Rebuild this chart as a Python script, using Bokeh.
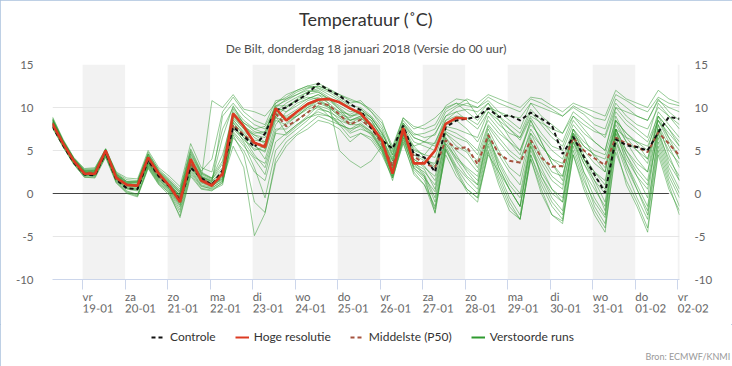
import pandas as pd
from bokeh.plotting import figure
from bokeh.layouts import column
from bokeh.models import (FixedTicker, CustomJSTickFormatter, LinearAxis, DatetimeAxis, Range1d,
                          Title, Legend, LegendItem, ColumnDataSource)
from bokeh.embed import file_html
from bokeh.resources import INLINE

# ---------------- data ----------------
times = pd.date_range("2018-01-18 07:00", periods=60, freq="6h")   # local time, 6-hourly
tick_days = ["2018-01-19", "2018-01-20", "2018-01-21", "2018-01-22", "2018-01-23",
             "2018-01-24", "2018-01-25", "2018-01-26", "2018-01-27", "2018-01-28",
             "2018-01-29", "2018-01-30", "2018-01-31", "2018-02-01", "2018-02-02"]
day_names = ["vr", "za", "zo", "ma", "di", "wo", "do", "vr", "za", "zo", "ma", "di", "wo", "do", "vr"]
date_labels = ["19-01", "20-01", "21-01", "22-01", "23-01", "24-01", "25-01", "26-01",
               "27-01", "28-01", "29-01", "30-01", "31-01", "01-02", "02-02"]
band_start = ["2018-01-19", "2018-01-21", "2018-01-23", "2018-01-25",
              "2018-01-27", "2018-01-29", "2018-01-31", "2018-02-02"]
band_end = ["2018-01-20", "2018-01-22", "2018-01-24", "2018-01-26",
            "2018-01-28", "2018-01-30", "2018-02-01", "2018-02-03"]
y_ticks = [-10, -5, 0, 5, 10, 15]

controle = [7.8, 5.6, 3.6, 2.2, 2.1, 4.8, 1.6, 0.6, 0.5, 3.9, 2.0, 0.8, -0.8, 3.0, 1.8, 1.0, 2.7,
            7.7, 6.7, 5.4, 7.0, 9.7, 10.0, 10.8, 11.6, 12.8, 12.0, 11.4, 10.4, 9.7, 7.6, 6.2, 5.2,
            7.9, 4.6, 4.2, 2.5, 7.7, 8.5, 8.7,
            8.9, 9.9, 8.9, 9.1, 8.5, 9.4, 8.7, 7.9, 4.6, 6.6, 4.3, 2.2, 0.1, 6.3, 5.6, 5.4, 5.0,
            7.1, 8.9, 8.7]
hoge_resolutie = [8.1, 5.8, 3.8, 2.3, 2.3, 5.0, 1.8, 1.0, 0.9, 4.2, 2.3, 0.9, -1.0, 4.0, 1.5, 0.9,
                  2.3, 9.3, 7.8, 5.9, 5.4, 9.9, 8.5, 9.5, 10.4, 10.9, 11.0, 10.6, 9.9, 9.3, 7.9,
                  6.2, 2.3, 7.6, 3.5, 3.5, 5.0, 8.1, 8.8, 8.7]
middelste = [8.2, 5.8, 3.8, 2.4, 2.4, 4.8, 1.9, 1.0, 0.9, 3.8, 2.0, 0.9, -0.6, 3.5, 1.7, 1.1, 2.0,
             8.0, 6.8, 5.8, 5.6, 9.3, 7.8, 8.5, 9.4, 10.5, 10.3, 9.2, 8.0, 8.6, 7.6, 5.8, 3.2,
             7.2, 4.3, 3.5, 3.0, 6.2, 5.2, 5.4,
             3.4, 6.8, 4.6, 3.8, 3.6, 6.2, 4.2, 3.1, 3.2, 6.5, 5.0, 4.1, 3.3, 6.5, 5.8, 5.4, 4.8,
             7.1, 5.8, 4.4]

run01 = [8.6, 6.0, 4.0, 2.6, 2.7, 5.0, 2.1, 1.2, 1.3, 4.4, 2.5, 1.2, -0.2, 4.2, 2.0, 1.5, 6.5,
         10.2, 8.0, 6.5, 5.8, 9.5, 10.5, 11.2, 11.8, 12.2, 11.5, 10.8, 10.0, 9.2, 7.8, 6.0, 3.5, 7.8, 5.0, 4.5, 6.0, 8.5, 9.5, 9.8,
         9.5, 10.5, 9.0, 7.5, 6.2, 8.8, 7.0, 5.5, 5.0, 8.0, 6.5, 4.2, 2.5, 8.5, 7.0, 5.8, 4.0, 9.0, 7.5, 5.5]
run02 = [7.9, 5.6, 3.7, 2.2, 2.2, 4.6, 1.6, 0.6, 0.4, 3.5, 1.6, 0.4, -1.4, 3.0, 1.2, 0.8, 1.8,
         7.8, 6.5, 5.0, 5.5, 9.0, 7.0, 8.0, 9.0, 10.2, 9.8, 8.5, 7.2, 8.0, 7.0, 5.2, 2.6, 6.8, 3.2, 2.5, 1.0, 6.2, 4.0, 2.8,
         1.5, 6.5, 3.5, 1.0, -0.5, 5.5, 2.0, 0.0, -1.0, 6.0, 2.5, 0.5, -1.5, 7.0, 4.0, 2.0, 0.5, 7.5, 3.5, 1.5]
run03 = [8.4, 5.9, 3.9, 2.5, 2.3, 4.9, 1.9, 0.9, 0.8, 3.9, 2.2, 1.1, -0.3, 3.8, 1.9, 1.4, 2.5,
         8.5, 7.2, 6.2, 6.0, 9.8, 8.8, 9.5, 10.5, 11.0, 10.8, 9.8, 8.5, 9.0, 8.2, 6.8, 3.0, 7.5, 4.0, 3.0, 2.0, 7.0, 5.5, 4.8,
         3.0, 7.5, 5.0, 3.0, 2.0, 7.0, 4.5, 2.5, 2.0, 7.5, 5.5, 4.5, 3.0, 9.0, 6.5, 5.0, 3.5, 8.5, 6.0, 4.0]
run04 = [8.0, 5.7, 3.6, 2.1, 2.0, 4.5, 1.5, 0.3, -0.1, 3.2, 1.3, 0.2, -1.9, 2.6, 0.9, 0.5, 1.2,
         7.2, 5.8, 3.0, -0.5, 5.0, 6.5, 7.5, 8.5, 9.8, 9.5, 8.0, 7.5, 8.2, 7.2, 5.5, 2.0, 6.5, 2.8, 1.5, -1.8, 5.5, 3.2, 1.8,
         0.5, 5.8, 2.5, -0.5, -2.5, 4.5, 1.0, -1.5, -3.0, 5.0, 1.5, -1.0, -2.8, 6.5, 3.0, 0.5, -2.5, 6.0, 2.0, -0.5]
run05 = [8.8, 6.2, 4.1, 2.8, 2.9, 5.2, 2.4, 1.6, 1.5, 4.6, 2.8, 1.7, 0.5, 5.2, 2.6, 4.0, 9.5,
         11.2, 9.5, 8.5, 8.0, 10.8, 11.0, 11.8, 12.3, 12.5, 12.0, 11.2, 10.5, 10.8, 9.5, 8.2, 5.5, 8.8, 7.5, 8.0, 8.8, 10.0, 10.5, 10.2,
         10.0, 11.2, 10.5, 10.0, 9.5, 11.0, 10.5, 9.8, 9.0, 10.2, 9.5, 8.8, 8.5, 11.5, 10.8, 10.0, 9.5, 11.2, 10.5, 10.2]
run06 = [8.1, 5.8, 3.8, 2.4, 2.5, 4.8, 1.8, 1.0, 0.9, 3.7, 1.9, 0.8, -0.7, 3.4, 1.6, 1.0, 2.2,
         8.2, 6.8, 5.5, 4.8, 8.5, 8.0, 9.0, 10.0, 10.8, 10.2, 9.2, 8.8, 9.5, 8.0, 6.2, 3.8, 7.2, 4.5, 3.8, 3.5, 7.2, 6.5, 6.0,
         4.5, 8.0, 6.5, 5.0, 4.0, 7.0, 5.5, 4.0, 3.5, 7.0, 5.5, 4.5, 4.0, 7.5, 6.5, 6.0, 5.5, 8.5, 7.0, 5.5]
run07 = [8.3, 5.9, 3.8, 2.3, 2.4, 4.7, 2.0, 1.1, 1.0, 4.0, 2.1, 0.9, -0.5, 3.6, 1.8, 10.8, 10.0,
         11.5, 9.8, 9.5, 9.0, 10.5, 11.5, 12.0, 12.5, 12.3, 11.8, 11.0, 10.2, 10.0, 9.0, 7.5, 4.5, 8.2, 6.5, 6.0, 5.8, 9.0, 9.5, 8.5,
         7.5, 9.5, 8.0, 7.0, 6.5, 9.0, 8.2, 7.5, 7.0, 9.0, 8.0, 7.2, 6.8, 10.5, 9.0, 8.0, 7.5, 10.0, 9.0, 8.0]
run08 = [7.7, 5.4, 3.4, 1.9, 1.9, 4.3, 1.3, 0.0, -0.4, 2.9, 1.0, -0.2, -2.6, 2.2, 0.6, 0.4, 1.0,
         6.8, 4.5, -1.0, -2.2, 3.5, 5.5, 6.8, 7.5, 8.5, 8.2, 7.5, 6.0, 7.0, 6.5, 4.8, 1.8, 6.0, 2.2, 1.0, -2.2, 5.0, 2.8, 0.5,
         -0.5, 5.0, 1.5, -1.5, -3.0, 4.0, 0.0, -2.5, -3.5, 4.5, 0.5, -2.5, -4.5, 5.5, 1.0, -1.5, -4.5, 5.0, 1.0, -2.5]
run09 = [8.5, 6.1, 4.0, 2.6, 2.6, 5.0, 2.2, 1.3, 1.2, 4.3, 2.4, 1.3, 0.1, 4.4, 2.2, 1.6, 3.5,
         9.2, 7.8, 7.0, 7.2, 10.2, 10.8, 11.5, 12.0, 11.8, 11.0, 10.2, 9.5, 9.8, 8.8, 7.0, 4.8, 8.0, 6.0, 5.5, 5.0, 8.0, 8.5, 7.5,
         6.0, 8.5, 7.0, 6.0, 5.0, 8.0, 6.5, 5.0, 4.0, 7.5, 6.0, 5.0, 4.5, 8.5, 7.0, 6.0, 5.0, 9.5, 8.0, 6.5]
run10 = [8.2, 5.7, 3.7, 2.3, 2.2, 4.7, 1.7, 0.8, 0.6, 3.6, 1.8, 0.6, -1.1, 3.2, 1.4, 0.9, 1.6,
         8.0, 6.0, 4.2, 3.5, 7.5, 7.5, 8.5, 9.5, 10.0, 9.5, 8.8, 8.0, 8.5, 7.5, 5.8, 2.8, 7.0, 3.8, 2.2, -0.5, 5.8, 3.8, 2.0,
         1.0, 6.2, 3.0, 0.5, -1.5, 5.0, 2.5, 0.5, -0.5, 6.5, 3.5, 1.5, 0.0, 7.5, 5.0, 3.0, 1.5, 8.0, 5.5, 3.0]
run11 = [8.6, 6.1, 4.1, 2.7, 2.8, 5.1, 2.3, 1.4, 1.4, 4.8, 2.7, 1.5, 0.3, 4.8, 2.3, 1.8, 4.5,
         9.0, 7.5, 5.8, 4.0, 8.0, 9.5, 10.5, 11.0, 11.5, 10.5, 5.0, 3.8, 3.0, 3.8, 5.5, 3.3, 7.0, 5.5, 6.0, 7.0, 9.0, 10.0, 10.5,
         10.0, 10.8, 9.5, 9.0, 8.8, 10.5, 10.0, 9.5, 9.0, 10.0, 9.2, 8.0, 7.5, 11.0, 10.0, 9.0, 8.5, 10.8, 10.0, 9.5]
run12 = [7.8, 5.5, 3.5, 2.0, 2.1, 4.4, 1.4, 0.2, -0.2, 3.1, 1.2, 0.0, -2.2, 2.4, 0.8, 0.6, 1.5,
         5.5, 3.0, -4.9, -2.3, 4.0, 6.0, 7.0, 8.0, 9.0, 8.5, 8.0, 7.5, 7.8, 6.8, 5.0, 2.2, 6.2, 3.0, 1.8, 0.2, 5.8, 4.2, 3.0,
         2.0, 6.5, 3.8, 1.5, 0.0, 6.0, 3.5, 1.5, 0.5, 6.8, 4.0, 2.0, 0.5, 7.0, 4.5, 2.5, 1.0, 7.0, 4.0, 2.0]
run13 = [8.4, 6.0, 3.9, 2.4, 2.5, 4.9, 2.0, 1.1, 1.0, 4.1, 2.2, 1.0, -0.4, 3.8, 1.9, 1.3, 9.0,
         10.5, 9.0, 8.0, 7.5, 9.5, 10.0, 11.0, 11.8, 12.0, 11.2, 10.5, 9.8, 9.5, 8.5, 6.5, 4.0, 7.8, 5.5, 4.2, 3.2, 7.5, 7.0, 6.2,
         5.0, 9.0, 7.5, 6.0, 4.5, 8.5, 6.0, 3.5, 2.0, 7.0, 4.0, 1.5, -1.0, 7.5, 4.5, 2.0, -0.5, 8.0, 4.5, 1.5]
run14 = [8.0, 5.6, 3.7, 2.2, 2.3, 4.6, 1.7, 0.7, 0.5, 3.4, 1.5, 0.5, -1.0, 3.3, 1.3, 0.9, 2.0,
         7.5, 6.2, 5.2, 5.0, 8.8, 8.5, 9.2, 10.2, 10.8, 10.0, 9.0, 8.2, 8.8, 7.8, 5.5, 2.5, 7.0, 3.5, 2.8, 0.5, 6.5, 4.5, 2.5,
         1.0, 7.0, 3.0, 0.5, -1.5, 6.0, 2.0, -0.5, -2.0, 6.5, 2.5, -0.5, -2.5, 7.5, 3.5, 0.5, -2.0, 7.0, 3.0, 0.5]
run15 = [8.7, 6.1, 4.0, 2.5, 2.6, 5.1, 2.1, 1.2, 1.1, 4.2, 2.3, 1.1, -0.2, 4.0, 2.0, 1.4, 2.8,
         9.5, 8.2, 7.5, 7.0, 10.5, 11.2, 12.0, 12.5, 12.8, 12.2, 11.5, 11.0, 10.5, 9.8, 8.5, 5.0, 8.5, 7.0, 6.5, 6.8, 9.5, 10.2, 11.0,
         10.5, 11.5, 11.0, 10.5, 10.0, 11.2, 11.0, 10.2, 9.5, 10.5, 10.0, 9.5, 9.0, 12.0, 11.0, 10.5, 10.0, 12.0, 11.0, 10.5]
run16 = [8.1, 5.7, 3.6, 2.2, 2.1, 4.6, 1.7, 0.6, 0.5, 3.5, 1.7, 0.5, -1.3, 3.1, 1.5, 1.0, 1.7,
         7.8, 6.5, 4.5, 3.0, 7.0, 6.8, 7.8, 8.8, 9.5, 9.0, 8.2, 7.0, 7.5, 7.0, 5.0, 1.5, 6.5, 3.0, 2.0, -1.0, 5.2, 3.0, 1.2,
         0.0, 5.5, 2.0, -1.0, -3.0, 4.5, 1.5, -1.0, -2.5, 5.5, 2.0, -1.5, -3.5, 6.0, 2.5, -0.5, -3.0, 5.5, 1.5, -1.5]
run17 = [8.3, 5.8, 3.8, 2.4, 2.4, 4.8, 1.9, 1.0, 0.8, 3.8, 2.0, 0.8, -0.6, 3.5, 1.7, 1.1, 2.4,
         8.8, 7.5, 6.8, 6.5, 10.0, 9.5, 10.2, 11.0, 11.5, 11.0, 10.0, 9.0, 9.2, 8.5, 6.5, 3.8, 7.5, 5.2, 4.5, 4.2, 7.8, 7.5, 7.0,
         6.5, 9.5, 8.5, 7.5, 6.5, 9.5, 8.0, 6.5, 5.5, 8.5, 7.0, 6.0, 5.0, 9.5, 8.0, 7.0, 6.0, 9.0, 7.5, 6.0]
run18 = [8.9, 6.3, 4.2, 2.9, 3.0, 5.2, 2.5, 1.8, 1.7, 5.0, 3.0, 2.0, 0.8, 5.8, 3.0, 2.5, 7.5,
         10.0, 8.5, 7.5, 7.8, 10.0, 11.0, 11.5, 12.2, 12.5, 12.0, 11.5, 10.8, 10.5, 9.5, 7.8, 5.2, 8.8, 7.8, 7.5, 8.0, 10.2, 11.0, 10.8,
         9.0, 10.5, 8.5, 6.5, 5.0, 8.5, 6.0, 3.5, 1.5, 7.5, 4.5, 2.5, 1.0, 8.5, 6.0, 4.0, 2.5, 9.0, 6.5, 4.0]
run19 = [7.6, 5.4, 3.4, 1.9, 1.8, 4.2, 1.2, 0.1, -0.3, 3.0, 1.1, 0.1, -2.8, 2.0, 0.5, 0.3, 1.3,
         6.5, 5.0, 2.5, 1.5, 6.0, 7.0, 8.0, 8.8, 9.2, 9.0, 8.5, 8.0, 8.0, 7.2, 5.2, 2.0, 6.8, 3.5, 2.0, -2.3, 5.2, 2.5, 0.2,
         -1.0, 4.8, 1.0, -2.0, -3.0, 4.0, 0.5, -2.5, -3.2, 4.5, 1.0, -2.0, -4.0, 4.8, 1.5, -1.0, -4.0, 4.5, 0.5, -2.0]
run20 = [8.2, 5.9, 3.9, 2.5, 2.4, 4.9, 2.0, 1.1, 1.0, 3.9, 2.1, 1.0, -0.4, 3.7, 1.8, 1.2, 2.2,
         8.6, 7.0, 6.0, 5.2, 9.2, 9.0, 9.8, 10.8, 11.2, 10.5, 9.5, 8.5, 8.8, 7.8, 6.0, 3.2, 7.3, 4.8, 4.0, 3.0, 7.0, 6.0, 5.0,
         3.8, 7.8, 6.0, 4.5, 3.5, 7.5, 5.5, 4.0, 3.0, 7.0, 5.0, 3.5, 2.5, 8.0, 6.0, 5.0, 4.0, 8.5, 6.5, 5.0]
run21 = [8.0, 5.6, 3.6, 2.1, 2.2, 4.5, 1.6, 0.5, 0.3, 3.3, 1.4, 0.3, -1.6, 2.8, 1.0, 0.7, 1.4,
         7.0, 5.5, 4.0, 2.2, 7.2, 8.2, 9.0, 9.8, 10.2, 9.0, 8.0, 6.5, 7.0, 6.2, 4.5, 1.8, 5.8, 2.5, 1.0, -1.5, 4.5, 2.0, 0.5,
         -0.5, 4.5, 2.5, 0.5, -1.5, 5.5, 3.0, 0.5, -1.0, 6.0, 3.5, 1.0, -2.0, 6.0, 3.5, 1.0, -1.5, 6.5, 2.5, 0.0]
run22 = [8.5, 6.0, 4.0, 2.6, 2.6, 5.0, 2.2, 1.3, 1.3, 4.5, 2.5, 1.4, 0.0, 4.6, 2.4, 1.7, 3.0,
         9.0, 7.8, 6.8, 6.0, 9.0, 10.0, 10.8, 11.5, 11.8, 11.0, 9.8, 9.0, 9.5, 8.8, 7.2, 4.2, 8.0, 6.5, 6.0, 5.5, 8.5, 9.0, 8.8,
         8.0, 10.0, 9.5, 8.5, 7.5, 10.5, 9.0, 8.0, 7.0, 9.5, 8.5, 7.5, 6.5, 10.0, 9.5, 9.0, 8.5, 11.0, 9.5, 8.5]
run23 = [8.3, 5.8, 3.8, 2.3, 2.3, 4.8, 1.8, 0.9, 0.7, 3.7, 1.9, 0.7, -0.8, 3.4, 1.6, 1.0, 1.9,
         8.3, 6.8, 5.8, 5.5, 9.5, 8.5, 9.0, 10.0, 10.5, 10.0, 9.0, 8.5, 9.0, 7.8, 5.8, 3.0, 7.2, 4.0, 3.2, 1.5, 6.5, 5.0, 4.0,
         2.5, 7.0, 4.5, 2.5, 1.0, 6.5, 4.0, 2.0, 1.0, 6.5, 4.0, 2.5, 1.5, 7.5, 5.0, 3.5, 2.5, 7.5, 5.0, 3.5]
run24 = [8.6, 6.1, 4.1, 2.7, 2.7, 5.1, 2.3, 1.4, 1.4, 4.6, 2.6, 1.5, 0.2, 5.0, 2.5, 1.8, 3.8,
         9.8, 8.2, 7.2, 6.8, 10.2, 10.2, 10.8, 11.2, 11.0, 10.2, 9.5, 9.2, 9.8, 8.8, 7.0, 4.5, 8.2, 6.8, 7.0, 7.5, 9.8, 10.5, 9.5,
         8.5, 10.0, 9.0, 8.0, 7.0, 9.8, 8.5, 7.0, 6.0, 9.0, 7.5, 6.0, 5.0, 10.0, 8.5, 7.5, 6.5, 10.5, 9.0, 7.5]

runs = [run01, run02, run03, run04, run05, run06, run07, run08, run09, run10, run11, run12,
        run13, run14, run15, run16, run17, run18, run19, run20, run21, run22, run23, run24]

legend_labels = ["Controle", "Hoge resolutie", "Middelste (P50)", "Verstoorde runs"]
source_text = "Bron: ECMWF/KNMI"

# ---------------- main figure ----------------
FONT = "Lato"
GREEN = "#2f9a2f"
RED = "#dc3a22"
BROWN = "#a5523e"
BLACK = "#111111"

p = figure(frame_width=627, frame_height=215, x_axis_type="datetime",
           x_range=Range1d(times[0], times[-1]), y_range=Range1d(-10, 15),
           output_backend="svg", toolbar_location=None, title_location=None,
           min_border_left=52, min_border_right=53, min_border_top=64, min_border_bottom=45,
           background_fill_color="white", border_fill_color="white")
p.outline_line_color = None

bands = ColumnDataSource(dict(left=pd.to_datetime(band_start), right=pd.to_datetime(band_end)))
p.quad(left="left", right="right", bottom=-10, top=15, source=bands,
       fill_color="#f2f2f2", line_color=None, level="image")

p.xgrid.visible = False
p.ygrid.ticker = FixedTicker(ticks=y_ticks)
p.ygrid.grid_line_color = "#e6e6e6"

p.segment(x0=[times[0]], y0=[0], x1=[times[58]], y1=[0], line_color="#444444", line_width=1)

p.multi_line(xs=[list(times)] * len(runs), ys=runs, line_color=GREEN,
             line_alpha=0.5, line_width=1)

p.line(times, middelste, line_color=BROWN, line_width=2, line_dash="4 3")
p.line(times, controle, line_color=BLACK, line_width=2, line_dash="4 3")
p.line(times[:len(hoge_resolutie)], hoge_resolutie, line_color=RED, line_width=2.6)

# x axes: first carries tick marks + day names, second carries the dates
tick_ms = [pd.Timestamp(d).value / 1e6 for d in tick_days]
LOOKUP = """
for (let i = 0; i < tvals.length; i++) {
  if (Math.abs(tvals[i] - tick) < 60000) { return tlabels[i]; }
}
return "";
"""
xa = p.xaxis[0]
xa.ticker = FixedTicker(ticks=tick_ms)
xa.formatter = CustomJSTickFormatter(args=dict(tvals=tick_ms, tlabels=day_names), code=LOOKUP)
xa.axis_line_color = "#ccd6eb"
xa.major_tick_line_color = "#ccd6eb"
xa.major_tick_out = 10
xa.major_tick_in = 0
xa.major_label_standoff = 7

xb = DatetimeAxis(ticker=FixedTicker(ticks=tick_ms),
                  formatter=CustomJSTickFormatter(args=dict(tvals=tick_ms, tlabels=date_labels), code=LOOKUP))
xb.axis_line_color = None
xb.major_tick_line_color = None
xb.major_tick_out = 0
xb.major_tick_in = 0
xb.major_label_standoff = -4
p.add_layout(xb, "below")

for a in (xa, xb):
    a.minor_tick_line_color = None
    a.major_label_orientation = -0.001
    a.major_label_text_font = FONT
    a.major_label_text_font_size = "11.5px"
    a.major_label_text_color = "#666666"

ya = p.yaxis[0]
ya_r = LinearAxis()
p.add_layout(ya_r, "right")
for a in (ya, ya_r):
    a.ticker = FixedTicker(ticks=y_ticks)
    a.formatter = CustomJSTickFormatter(code="return String(tick);")
    a.axis_line_color = None
    a.major_tick_line_color = None
    a.major_tick_out = 0
    a.major_tick_in = 0
    a.minor_tick_line_color = None
    a.major_label_text_font = FONT
    a.major_label_text_font_size = "11.5px"
    a.major_label_text_color = "#666666"
ya.major_label_standoff = 19
ya_r.major_label_standoff = 15

sub = Title(text="De Bilt, donderdag 18 januari 2018 (Versie do 00 uur)", align="center",
            text_font=FONT, text_font_size="12px", text_font_style="normal",
            text_color="#4d4d4d", standoff=17)
main = Title(text="Temperatuur (\u02daC)", align="center", text_font=FONT,
             text_font_size="18px", text_font_style="normal", text_color="#333333", standoff=2)
p.add_layout(sub, "above")
p.add_layout(main, "above")

# ---------------- footer figure: legend + source ----------------
f = figure(width=732, height=42, x_range=Range1d(0, 10), y_range=Range1d(0, 10),
           output_backend="svg", toolbar_location=None, x_axis_location=None,
           y_axis_location=None, title_location=None,
           min_border_left=52, min_border_right=53, min_border_top=0, min_border_bottom=18,
           outline_line_color=None, background_fill_color="white", border_fill_color="white")
f.xgrid.visible = False
f.ygrid.visible = False
g_c = f.line([-5, -4], [-5, -5], line_color=BLACK, line_width=2, line_dash="4 3")
g_h = f.line([-5, -4], [-5, -5], line_color=RED, line_width=2)
g_m = f.line([-5, -4], [-5, -5], line_color=BROWN, line_width=2, line_dash="4 3")
g_v = f.line([-5, -4], [-5, -5], line_color=GREEN, line_width=2)
legend = Legend(items=[LegendItem(label=legend_labels[0], renderers=[g_c]),
                       LegendItem(label=legend_labels[1], renderers=[g_h]),
                       LegendItem(label=legend_labels[2], renderers=[g_m]),
                       LegendItem(label=legend_labels[3], renderers=[g_v])],
                orientation="horizontal", location=(99, 4), border_line_color=None,
                background_fill_alpha=0, label_text_font=FONT, label_text_font_size="12px",
                label_text_color="#333333", glyph_width=14, glyph_height=14,
                label_standoff=5, spacing=19, padding=2, margin=0)
f.add_layout(legend)
f.add_layout(Title(text=source_text, align="left", offset=593, standoff=0,
                   text_font=FONT, text_font_size="9px", text_font_style="normal",
                   text_color="#999999"), "below")

layout = column(p, f, spacing=0,
                styles={"outline": "1px solid #a9c1dd", "outline-offset": "-1px"})
open("out.html", "w").write(file_html(layout, INLINE))
